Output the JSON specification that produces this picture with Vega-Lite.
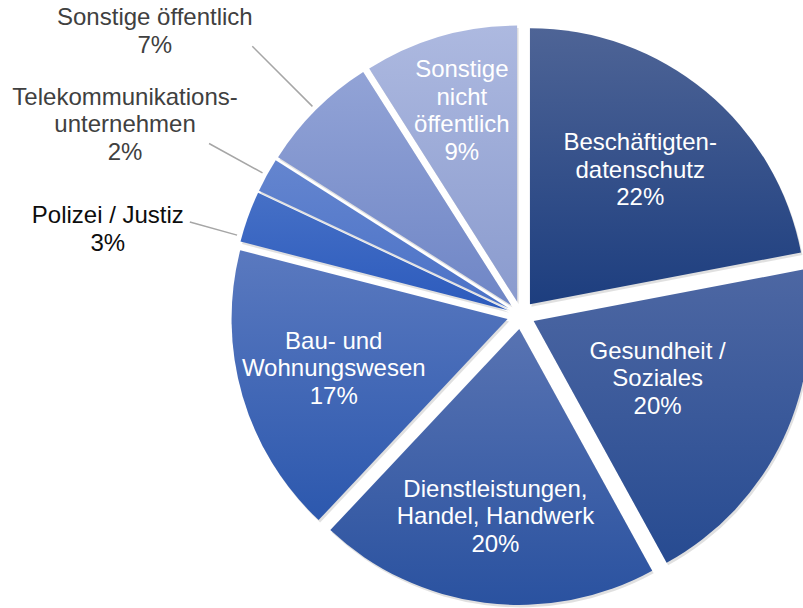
{
  "$schema": "https://vega.github.io/schema/vega-lite/v6.json",
  "width": 564,
  "height": 586,
  "autosize": {"type": "none"},
  "padding": {"left": 239, "top": 22, "right": 0, "bottom": 0},
  "background": "white",
  "config": {"view": {"stroke": null}, "font": "Liberation Sans"},
  "data": {
    "values": [
      {"category": "Beschäftigtendatenschutz", "label": "Beschäftigten-\ndatenschutz", "value": 22, "rank": 1},
      {"category": "Gesundheit / Soziales", "label": "Gesundheit /\nSoziales", "value": 20, "rank": 2},
      {"category": "Dienstleistungen, Handel, Handwerk", "label": "Dienstleistungen,\nHandel, Handwerk", "value": 20, "rank": 3},
      {"category": "Bau- und Wohnungswesen", "label": "Bau- und\nWohnungswesen", "value": 17, "rank": 4},
      {"category": "Polizei / Justiz", "label": "Polizei / Justiz", "value": 3, "rank": 5},
      {"category": "Telekommunikationsunternehmen", "label": "Telekommunikations-\nunternehmen", "value": 2, "rank": 6},
      {"category": "Sonstige öffentlich", "label": "Sonstige öffentlich", "value": 7, "rank": 7},
      {"category": "Sonstige nicht öffentlich", "label": "Sonstige\nnicht\nöffentlich", "value": 9, "rank": 8}
    ]
  },
  "transform": [{"calculate": "datum.label + '\\n' + datum.value + '%'", "as": "text"}],
  "encoding": {
    "theta": {"field": "value", "type": "quantitative", "stack": true},
    "order": {"field": "rank", "type": "quantitative"}
  },
  "layer": [
    {
      "mark": {
        "type": "arc",
        "radius": 276,
        "fill": "#000000",
        "opacity": 0.12,
        "x": {"expr": "width/2 + 1.5 + 14*sin(PI*(datum.value_start+datum.value_end)/100)"},
        "y": {"expr": "height/2 + 2.5 - 14*cos(PI*(datum.value_start+datum.value_end)/100)"}
      }
    },
    {
      "mark": {
        "type": "arc",
        "radius": 276,
        "x": {"expr": "width/2 + 14*sin(PI*(datum.value_start+datum.value_end)/100)"},
        "y": {"expr": "height/2 - 14*cos(PI*(datum.value_start+datum.value_end)/100)"}
      },
      "encoding": {
        "fill": {
          "condition": [
            {"test": "datum.rank === 1", "value": {"gradient": "linear", "x1": 0, "y1": 0, "x2": 0, "y2": 1, "stops": [{"offset": 0, "color": "#4e6496"}, {"offset": 1, "color": "#1d3e7f"}]}},
            {"test": "datum.rank === 2", "value": {"gradient": "linear", "x1": 0, "y1": 0, "x2": 0, "y2": 1, "stops": [{"offset": 0, "color": "#4d67a3"}, {"offset": 1, "color": "#274b91"}]}},
            {"test": "datum.rank === 3", "value": {"gradient": "linear", "x1": 0, "y1": 0, "x2": 0, "y2": 1, "stops": [{"offset": 0, "color": "#5873b2"}, {"offset": 1, "color": "#2a52a0"}]}},
            {"test": "datum.rank === 4", "value": {"gradient": "linear", "x1": 0, "y1": 0, "x2": 0, "y2": 1, "stops": [{"offset": 0, "color": "#5a79bf"}, {"offset": 1, "color": "#2c58ae"}]}},
            {"test": "datum.rank === 5", "value": {"gradient": "linear", "x1": 0, "y1": 0, "x2": 0, "y2": 1, "stops": [{"offset": 0, "color": "#4670c6"}, {"offset": 1, "color": "#2c5bbd"}]}},
            {"test": "datum.rank === 6", "value": {"gradient": "linear", "x1": 0, "y1": 0, "x2": 0, "y2": 1, "stops": [{"offset": 0, "color": "#6485cf"}, {"offset": 1, "color": "#4b72c7"}]}},
            {"test": "datum.rank === 7", "value": {"gradient": "linear", "x1": 0, "y1": 0, "x2": 0, "y2": 1, "stops": [{"offset": 0, "color": "#92a3d6"}, {"offset": 1, "color": "#6f86c6"}]}},
            {"test": "datum.rank === 8", "value": {"gradient": "linear", "x1": 0, "y1": 0, "x2": 0, "y2": 1, "stops": [{"offset": 0, "color": "#adb9e0"}, {"offset": 1, "color": "#8a9bce"}]}}
          ],
          "value": "#4a6aa8"
        }
      }
    },
    {
      "mark": {
        "type": "arc",
        "filled": false,
        "stroke": "#a6a6a6",
        "strokeWidth": 1.5,
        "padAngle": 2,
        "radius": {"expr": "datum.rank === 5 ? 330 : datum.rank === 6 ? 342 : 366"},
        "radius2": 281,
        "thetaOffset": {"expr": "datum.rank === 5 ? -0.075 : 0"},
        "theta2Offset": {"expr": "datum.rank === 5 ? -0.075 : 0"},
        "x": {"expr": "width/2 + 14*sin(PI*(datum.value_start+datum.value_end)/100)"},
        "y": {"expr": "height/2 - 14*cos(PI*(datum.value_start+datum.value_end)/100)"}
      },
      "encoding": {
        "strokeOpacity": {"condition": {"test": "datum.value <= 7", "value": 1}, "value": 0}
      }
    },
    {
      "mark": {
        "type": "text",
        "font": "Liberation Sans",
        "fontSize": 24,
        "lineHeight": 27.5,
        "lineBreak": "\n",
        "align": "center",
        "baseline": "middle",
        "radius": {"expr": "datum.rank === 1 ? 173 : datum.rank === 2 ? 137 : datum.rank === 3 ? 190 : datum.rank === 4 ? 181 : datum.rank === 5 ? 408 : datum.rank === 6 ? 425 : datum.rank === 7 ? 449 : 198"},
        "thetaOffset": {"expr": "datum.rank === 5 ? -0.147 : datum.rank === 6 ? -0.058 : datum.rank === 7 ? -0.131 : 0"},
        "dy": {"expr": "-(length(split(datum.text, '\\n')) - 1) * 13.75"},
        "x": {"expr": "width/2 + 14*sin(PI*(datum.value_start+datum.value_end)/100)"},
        "y": {"expr": "height/2 - 14*cos(PI*(datum.value_start+datum.value_end)/100)"}
      },
      "encoding": {
        "text": {"field": "text", "type": "nominal"},
        "fill": {
          "condition": [
            {"test": "datum.value >= 9", "value": "#ffffff"},
            {"test": "datum.rank === 5", "value": "#0d0d0d"}
          ],
          "value": "#404040"
        }
      }
    }
  ]
}
